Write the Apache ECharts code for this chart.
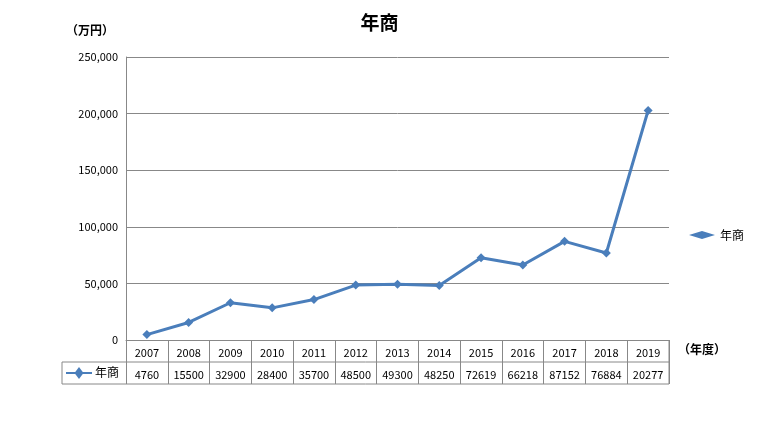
<!DOCTYPE html>
<html><head><meta charset="utf-8">
<script src="https://cdn.jsdelivr.net/npm/echarts@6/dist/echarts.min.js"></script>
<style>html,body{margin:0;padding:0;background:#fff}#c{width:759px;height:424px}</style>
</head><body><div id="c"></div>
<script>
const years = ['2007','2008','2009','2010','2011','2012','2013','2014','2015','2016','2017','2018','2019'];
const sales = [4760,15500,32900,28400,35700,48500,49300,48250,72619,66218,87152,76884,202770];
const yTicks = [0,50000,100000,150000,200000,250000];
const F = '"Noto Sans CJK JP", sans-serif';
const chart = echarts.init(document.getElementById('c'));
const L=126, R=669, T=57, B=340, rowH=22, C='#4A7EBB', G='#888';
chart.setOption({
  animation:false,
  title:{text:'年商',left:'center',top:8,textStyle:{fontFamily:F,fontSize:19,fontWeight:'bold',color:'#000'}},
  grid:{left:L,right:759-R,top:T,bottom:424-B},
  legend:{right:10,top:224,orient:'vertical',itemWidth:26,itemHeight:8,
    textStyle:{fontFamily:F,fontSize:12,color:'#000'},data:[{name:'年商',icon:'diamond'}]},
  xAxis:[{type:'category',data:years,boundaryGap:true,
    axisLine:{lineStyle:{color:G}},
    axisTick:{show:true,interval:0,length:rowH*2,lineStyle:{color:G}},
    axisLabel:{interval:0,margin:7,fontFamily:F,fontSize:11,color:'#000'}},
   {type:'category',data:sales.map(v=>String(v).slice(0,5)),position:'bottom',offset:rowH,gridIndex:0,
    axisLine:{show:false},axisTick:{show:false},
    axisLabel:{interval:0,margin:7,fontFamily:F,fontSize:11,color:'#000'}}],
  yAxis:{type:'value',min:yTicks[0],max:yTicks[yTicks.length-1],interval:yTicks[1]-yTicks[0],
    axisLine:{show:true,lineStyle:{color:G}},axisTick:{show:false},
    splitLine:{lineStyle:{color:G}},
    axisLabel:{fontFamily:F,fontSize:11,color:'#000',formatter:v=>v.toLocaleString('en-US')}},
  series:[{name:'年商',type:'line',data:sales,xAxisIndex:0,symbol:'diamond',symbolSize:9,
    lineStyle:{color:C,width:3},itemStyle:{color:C}}],
  graphic:[
    {type:'text',x:66,y:24,style:{text:'（万円）',font:'bold 12px '+F,fill:'#000'}},
    {type:'text',x:678,y:343,style:{text:'（年度）',font:'bold 12px '+F,fill:'#000'}},
    {type:'line',shape:{x1:62,y1:B+rowH,x2:R,y2:B+rowH},style:{stroke:G}},
    {type:'line',shape:{x1:62,y1:B+2*rowH,x2:R,y2:B+2*rowH},style:{stroke:G}},
    {type:'line',shape:{x1:62,y1:B+rowH,x2:62,y2:B+2*rowH},style:{stroke:G}},
    {type:'line',shape:{x1:R,y1:B,x2:R,y2:B+2*rowH},style:{stroke:G}},
    {type:'line',shape:{x1:66,y1:B+rowH*1.5,x2:92,y2:B+rowH*1.5},style:{stroke:C,lineWidth:2}},
    {type:'polygon',shape:{points:[[79,367],[83.5,373],[79,379],[74.5,373]]},style:{fill:C}},
    {type:'text',x:95,y:B+rowH+4,style:{text:'年商',font:'12px '+F,fill:'#000'}}
  ]
});
</script></body></html>
